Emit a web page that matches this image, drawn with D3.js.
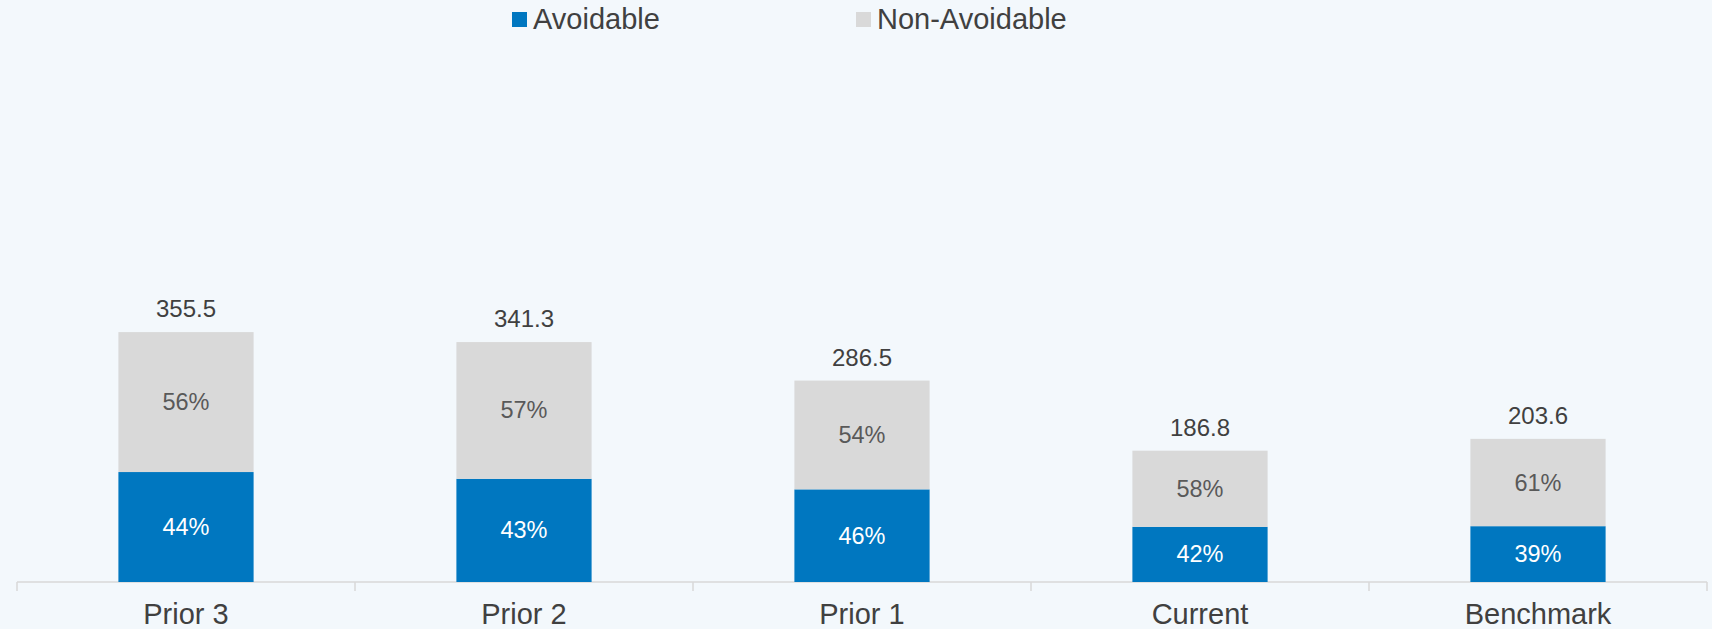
<!DOCTYPE html>
<html>
<head>
<meta charset="utf-8">
<script src="https://cdn.jsdelivr.net/npm/d3@7"></script>
<style>
    html, body { margin: 0; padding: 0; background: #f3f8fc; }
    svg { display: block; font-family: "Liberation Sans", Arial, sans-serif; }
</style>
</head>
<body>
<svg></svg>
<script>
// Chart values
var categories = ["Prior 3", "Prior 2", "Prior 1", "Current", "Benchmark"];
var totals = [355.5, 341.3, 286.5, 186.8, 203.6];
var avoidablePct = [44, 43, 46, 42, 39];
var nonAvoidablePct = [56, 57, 54, 58, 61];
var seriesNames = ["Avoidable", "Non-Avoidable"];

//==========================================================================
// Build stacked rows.

var rows = categories.map(function(c, i) {
    return {
        category: c,
        total: totals[i],
        Avoidable: totals[i] * avoidablePct[i] / 100,
        "Non-Avoidable": totals[i] * nonAvoidablePct[i] / 100,
        pct: { "Avoidable": avoidablePct[i], "Non-Avoidable": nonAvoidablePct[i] }
    };
});

var stack = d3.stack().keys(seriesNames);
var layers = stack(rows);

//==========================================================================
// Graphic elements.

var width = 1712;
var height = 629;
var axisY = 582;

var colors = { "Avoidable": "#0077c0", "Non-Avoidable": "#d9d9d9" };
var labelColors = { "Avoidable": "#ffffff", "Non-Avoidable": "#595959" };

var svg = d3.select("svg")
    .attr("width", width)
    .attr("height", height)
;

svg.append("rect")
    .attr("width", width)
    .attr("height", height)
    .attr("fill", "#f3f8fc")
;

var xScale = d3.scaleBand()
    .domain(categories)
    .range([17, 1707])
;

var barWidth = xScale.bandwidth() * 0.4;

var yScale = d3.scaleLinear()
    .domain([0, 800])
    .range([axisY, axisY - 800 * 0.703])
;

// axis
var axis = svg.append("g")
    .attr("transform", "translate(0," + axisY + ")")
;
axis.append("line")
    .attr("x1", xScale.range()[0])
    .attr("x2", xScale.range()[1])
    .attr("stroke", "#d9d9d9")
    .attr("stroke-width", 1.5)
;
var tickXs = categories.map(function(c) { return xScale(c); }).concat([xScale.range()[1]]);
axis.selectAll(".tick-line")
    .data(tickXs)
    .enter()
    .append("line")
    .attr("x1", function(d) { return d; })
    .attr("x2", function(d) { return d; })
    .attr("y1", 0)
    .attr("y2", 9)
    .attr("stroke", "#d9d9d9")
    .attr("stroke-width", 1.5)
;
axis.selectAll(".tick-label")
    .data(categories)
    .enter()
    .append("text")
    .attr("x", function(d) { return xScale(d) + xScale.bandwidth() / 2; })
    .attr("y", 42)
    .attr("text-anchor", "middle")
    .attr("font-size", 29)
    .attr("fill", "#404040")
    .text(function(d) { return d; })
;

// bars
var groups = svg.selectAll(".layer")
    .data(layers)
    .enter()
    .append("g")
    .attr("fill", function(d) { return colors[d.key]; })
;

groups.selectAll("rect")
    .data(function(d) { return d; })
    .enter()
    .append("rect")
    .attr("x", function(d) { return xScale(d.data.category) + (xScale.bandwidth() - barWidth) / 2; })
    .attr("width", barWidth)
    .attr("y", function(d) { return yScale(d[1]); })
    .attr("height", function(d) { return yScale(d[0]) - yScale(d[1]); })
;

// percent labels
layers.forEach(function(layer) {
    svg.append("g").selectAll("text")
        .data(layer)
        .enter()
        .append("text")
        .attr("x", function(d) { return xScale(d.data.category) + xScale.bandwidth() / 2; })
        .attr("y", function(d) { return (yScale(d[0]) + yScale(d[1])) / 2 + 8; })
        .attr("text-anchor", "middle")
        .attr("font-size", 23.5)
        .attr("fill", labelColors[layer.key])
        .text(function(d) { return d.data.pct[layer.key] + "%"; })
    ;
});

// total labels
svg.append("g").selectAll("text")
    .data(rows)
    .enter()
    .append("text")
    .attr("x", function(d) { return xScale(d.category) + xScale.bandwidth() / 2; })
    .attr("y", function(d) { return yScale(d.total) - 15; })
    .attr("text-anchor", "middle")
    .attr("font-size", 24)
    .attr("fill", "#404040")
    .text(function(d) { return d.total.toFixed(1); })
;

// legend
var legendX = [512, 856];
var legend = svg.selectAll(".legend")
    .data(seriesNames)
    .enter()
    .append("g")
    .attr("transform", function(d, i) { return "translate(" + legendX[i] + ",12)"; })
;
legend.append("rect")
    .attr("width", 15)
    .attr("height", 15)
    .attr("fill", function(d) { return colors[d]; })
;
legend.append("text")
    .attr("x", 21)
    .attr("y", 17)
    .attr("font-size", 29)
    .attr("fill", "#404040")
    .text(function(d) { return d; })
;
</script>
</body>
</html>
